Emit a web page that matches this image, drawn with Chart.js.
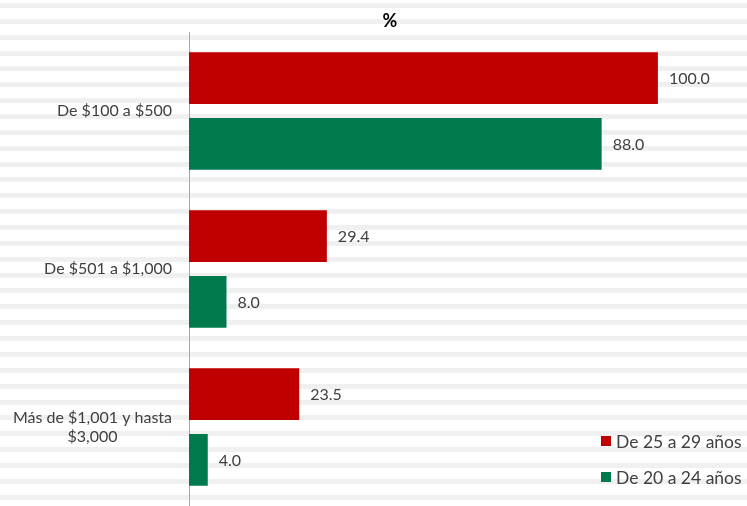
<!DOCTYPE html>
<html>
<head>
<meta charset="utf-8">
<script src="https://cdn.jsdelivr.net/npm/chart.js@4"></script>
<style>
  html, body { margin: 0; padding: 0; background: #fff; }
  #wrap { position: relative; width: 747px; height: 506px; }
</style>
</head>
<body>
<div id="wrap"><canvas id="chart"></canvas></div>
<script>
// Datos
const categorias = [
  ['De $100 a $500'],
  ['De $501 a $1,000'],
  ['Más de $1,001 y hasta', '$3,000'],
];
const serie25a29 = [100.0, 29.4, 23.5];
const serie20a24 = [88.0, 8.0, 4.0];
const etiquetasSerie = ['De 25 a 29 años', 'De 20 a 24 años'];
const coloresSerie = ['#c00000', '#007a4d'];

const FONT = 'Lato, "Open Sans", sans-serif';
const TXT = '#404040';

// fondo rayado
const stripes = {
  id: 'stripes',
  beforeDraw(chart) {
    const { ctx, width, height } = chart;
    ctx.save();
    ctx.fillStyle = '#f0f0f0';
    for (let y = 3; y < height; y += 15.86) {
      ctx.fillRect(0, Math.round(y), width, 5);
    }
    ctx.restore();
  },
};

// etiquetas del eje, valores, título y leyenda
const extras = {
  id: 'extras',
  afterDraw(chart) {
    const { ctx } = chart;
    const yScale = chart.scales.y;
    ctx.save();
    ctx.fillStyle = TXT;
    ctx.font = `16px ${FONT}`;
    ctx.textBaseline = 'middle';

    // categorías: bloque alineado a la derecha, líneas centradas
    const right = 172;
    const lh = 19;
    categorias.forEach((lines, i) => {
      const cy = yScale.getPixelForTick(i);
      const w = Math.max(...lines.map((l) => ctx.measureText(l).width));
      const cx = right - w / 2;
      ctx.textAlign = 'center';
      lines.forEach((l, j) => {
        ctx.fillText(l, cx, cy + (j - (lines.length - 1) / 2) * lh);
      });
    });

    // valores
    ctx.textAlign = 'left';
    chart.data.datasets.forEach((ds, di) => {
      chart.getDatasetMeta(di).data.forEach((bar, i) => {
        ctx.fillText(ds.data[i].toFixed(1), bar.x + 11, bar.y + 1);
      });
    });

    // título
    ctx.font = `bold 18px ${FONT}`;
    ctx.fillStyle = '#000';
    ctx.textAlign = 'center';
    ctx.fillText('%', 390, 21);

    // leyenda
    ctx.font = `17.5px ${FONT}`;
    ctx.textAlign = 'left';
    etiquetasSerie.forEach((lbl, i) => {
      const y = 441 + i * 36;
      ctx.fillStyle = coloresSerie[i];
      ctx.fillRect(601, y - 5, 10, 10);
      ctx.fillStyle = TXT;
      ctx.fillText(lbl, 616, y + 1);
    });
    ctx.restore();
  },
};

new Chart(document.getElementById('chart'), {
  type: 'bar',
  data: {
    labels: categorias,
    datasets: [
      { label: etiquetasSerie[0], data: serie25a29, backgroundColor: coloresSerie[0] },
      { label: etiquetasSerie[1], data: serie20a24, backgroundColor: coloresSerie[1] },
    ],
  },
  options: {
    indexAxis: 'y',
    responsive: true,
    maintainAspectRatio: false,
    animation: false,
    layout: { padding: { left: 181, top: 32, right: 0, bottom: 0 } },
    categoryPercentage: 0.833,
    barPercentage: 0.788,
    plugins: {
      legend: { display: false },
      tooltip: { enabled: false },
    },
    scales: {
      x: { display: false, min: 0, max: 119 },
      y: {
        grid: { display: false },
        border: { display: true, color: '#a6a6a6', width: 1 },
        ticks: { display: false },
      },
    },
  },
  plugins: [stripes, extras],
});
</script>
</body>
</html>
